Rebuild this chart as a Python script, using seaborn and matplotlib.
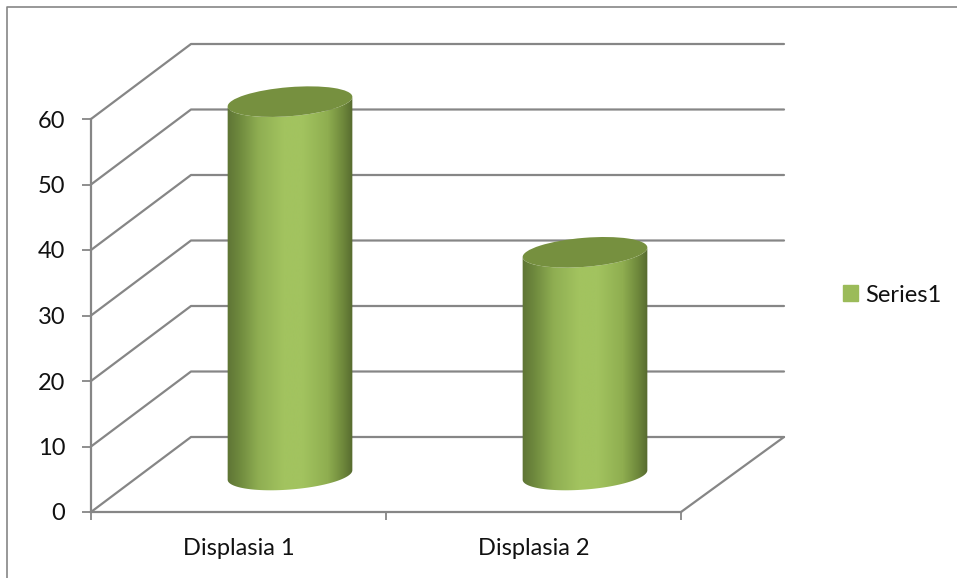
import numpy as np
import matplotlib
matplotlib.use("Agg")
import matplotlib.pyplot as plt
import seaborn as sns
from matplotlib.colors import LinearSegmentedColormap
from matplotlib.lines import Line2D
from matplotlib.patches import Ellipse, Patch, PathPatch
from matplotlib.path import Path
from matplotlib.transforms import IdentityTransform

categories = ["Displasia 1", "Displasia 2"]
values = [57, 34]
y_ticks = [0, 10, 20, 30, 40, 50, 60]
series_name = "Series1"

GRID = "#868686"
BASE = "#9BBB59"
CAP = "#76903F"
TEXT = "#111111"
FONT_SIZE = 17
W, H = 957, 578

sns.set_theme(style="white")
plt.rcParams["font.family"] = ["Lato", "DejaVu Sans"]

fig = plt.figure(figsize=(W / 100, H / 100), dpi=100)
ax = fig.add_axes([91 / W, (H - 512) / H, 590 / W, 393 / H])

sns.barplot(x=categories, y=values, color=BASE, width=0.424, ax=ax, saturation=1)
ax.set_xlim(-0.5, 1.5)
ax.set_ylim(0, 60)
ax.set_yticks(y_ticks)
ax.set_xticks([0, 1], categories)
ax.set_xticks([-0.5, 0.5, 1.5], minor=True)
ax.set_xlabel("")
ax.set_ylabel("")
ax.patch.set_visible(False)

sns.despine(ax=ax)
for side in ("left", "bottom"):
    ax.spines[side].set_color(GRID)
    ax.spines[side].set_linewidth(1.6)
ax.tick_params(axis="y", which="major", length=6.5, width=1.3, color=GRID, pad=12,
               labelsize=FONT_SIZE, labelcolor=TEXT, left=True)
ax.tick_params(axis="x", which="major", length=0, pad=19, labelsize=FONT_SIZE, labelcolor=TEXT)
ax.tick_params(axis="x", which="minor", length=6, width=1.3, color=GRID, bottom=True)

# Perspective depth of the floor and walls, in display pixels.
DEPTH_X, DEPTH_Y = 100, 75
to_px = ax.transData.transform
px = IdentityTransform()

for v in y_ticks:
    x0, y0 = to_px((-0.5, v))
    x1, _ = to_px((1.5, v))
    ax.add_line(Line2D([x0, x0 + DEPTH_X, x1 + DEPTH_X + 3], [y0, y0 + DEPTH_Y, y0 + DEPTH_Y],
                       transform=px, color=GRID, lw=1.6, clip_on=False, zorder=1))
x0, y0 = to_px((1.5, 0))
ax.add_line(Line2D([x0, x0 + DEPTH_X + 3], [y0, y0 + DEPTH_Y], transform=px,
                   color=GRID, lw=1.6, clip_on=False, zorder=1))

# Cylinders are built on the bars the barplot laid out.
shade = LinearSegmentedColormap.from_list(
    "cylinder",
    [(0.0, "#5E7435"), (0.1, "#6F8A3E"), (0.25, "#8FAE52"), (0.45, "#A2C35F"),
     (0.6, "#A2C35F"), (0.8, "#8FAE50"), (0.92, "#6F893C"), (1.0, "#566A2F")],
)
gradient = np.linspace(0, 1, 256).reshape(1, -1)
TILT = np.deg2rad(4.6)
MINOR = 14.5


def rim(cx, cy, half, t):
    ex, ey = half * np.cos(t), MINOR * np.sin(t)
    return (cx + ex * np.cos(TILT) - ey * np.sin(TILT),
            cy + ex * np.sin(TILT) + ey * np.cos(TILT))


for bar in ax.patches:
    left, right = bar.get_x(), bar.get_x() + bar.get_width()
    (xa, ya), (xb, yb) = to_px((left, 0)), to_px((right, bar.get_height()))
    cx, half = (xa + xb) / 2 + 51.5, (xb - xa) / 2
    bottom, top = ya + 37, yb + 37
    t_low = np.linspace(np.pi, 2 * np.pi, 60)
    lower_x, lower_y = rim(cx, bottom, half, t_low)
    top_x, top_y = rim(cx, top, half, t_low)
    outline = np.column_stack([np.r_[lower_x, top_x[::-1]], np.r_[lower_y, top_y[::-1]]])
    body = PathPatch(Path(np.vstack([outline, outline[0]])), transform=px, fc="none", ec="none")
    ax.add_patch(body)
    im = ax.imshow(gradient, cmap=shade, aspect="auto", transform=px, zorder=3,
                   extent=(cx - half, cx + half, outline[:, 1].min() - 2, outline[:, 1].max() + 2))
    im.set_clip_path(body)
    im.set_clip_box(fig.bbox)
    ax.add_patch(Ellipse((cx, top), 2 * half, 2 * MINOR, angle=np.rad2deg(TILT), transform=px,
                         fc=CAP, ec="none", zorder=4, clip_on=False))
    bar.set_visible(False)

ax.set_xlim(-0.5, 1.5)
ax.set_ylim(0, 60)

ax.legend(handles=[Patch(color=BASE, label=series_name)], loc="center left",
          bbox_to_anchor=(822 / W, (H - 295) / H), bbox_transform=fig.transFigure,
          frameon=False, fontsize=FONT_SIZE, handlelength=0.63, handleheight=0.63,
          handletextpad=0.3, labelcolor=TEXT)

# Outer chart frame, running off the top and left of the canvas area.
fig.add_artist(Line2D([7 / W, 7 / W, 1], [0, (H - 7) / H, (H - 7) / H],
                      transform=fig.transFigure, color=GRID, lw=1.2))

fig.savefig("out.png", dpi=100)
